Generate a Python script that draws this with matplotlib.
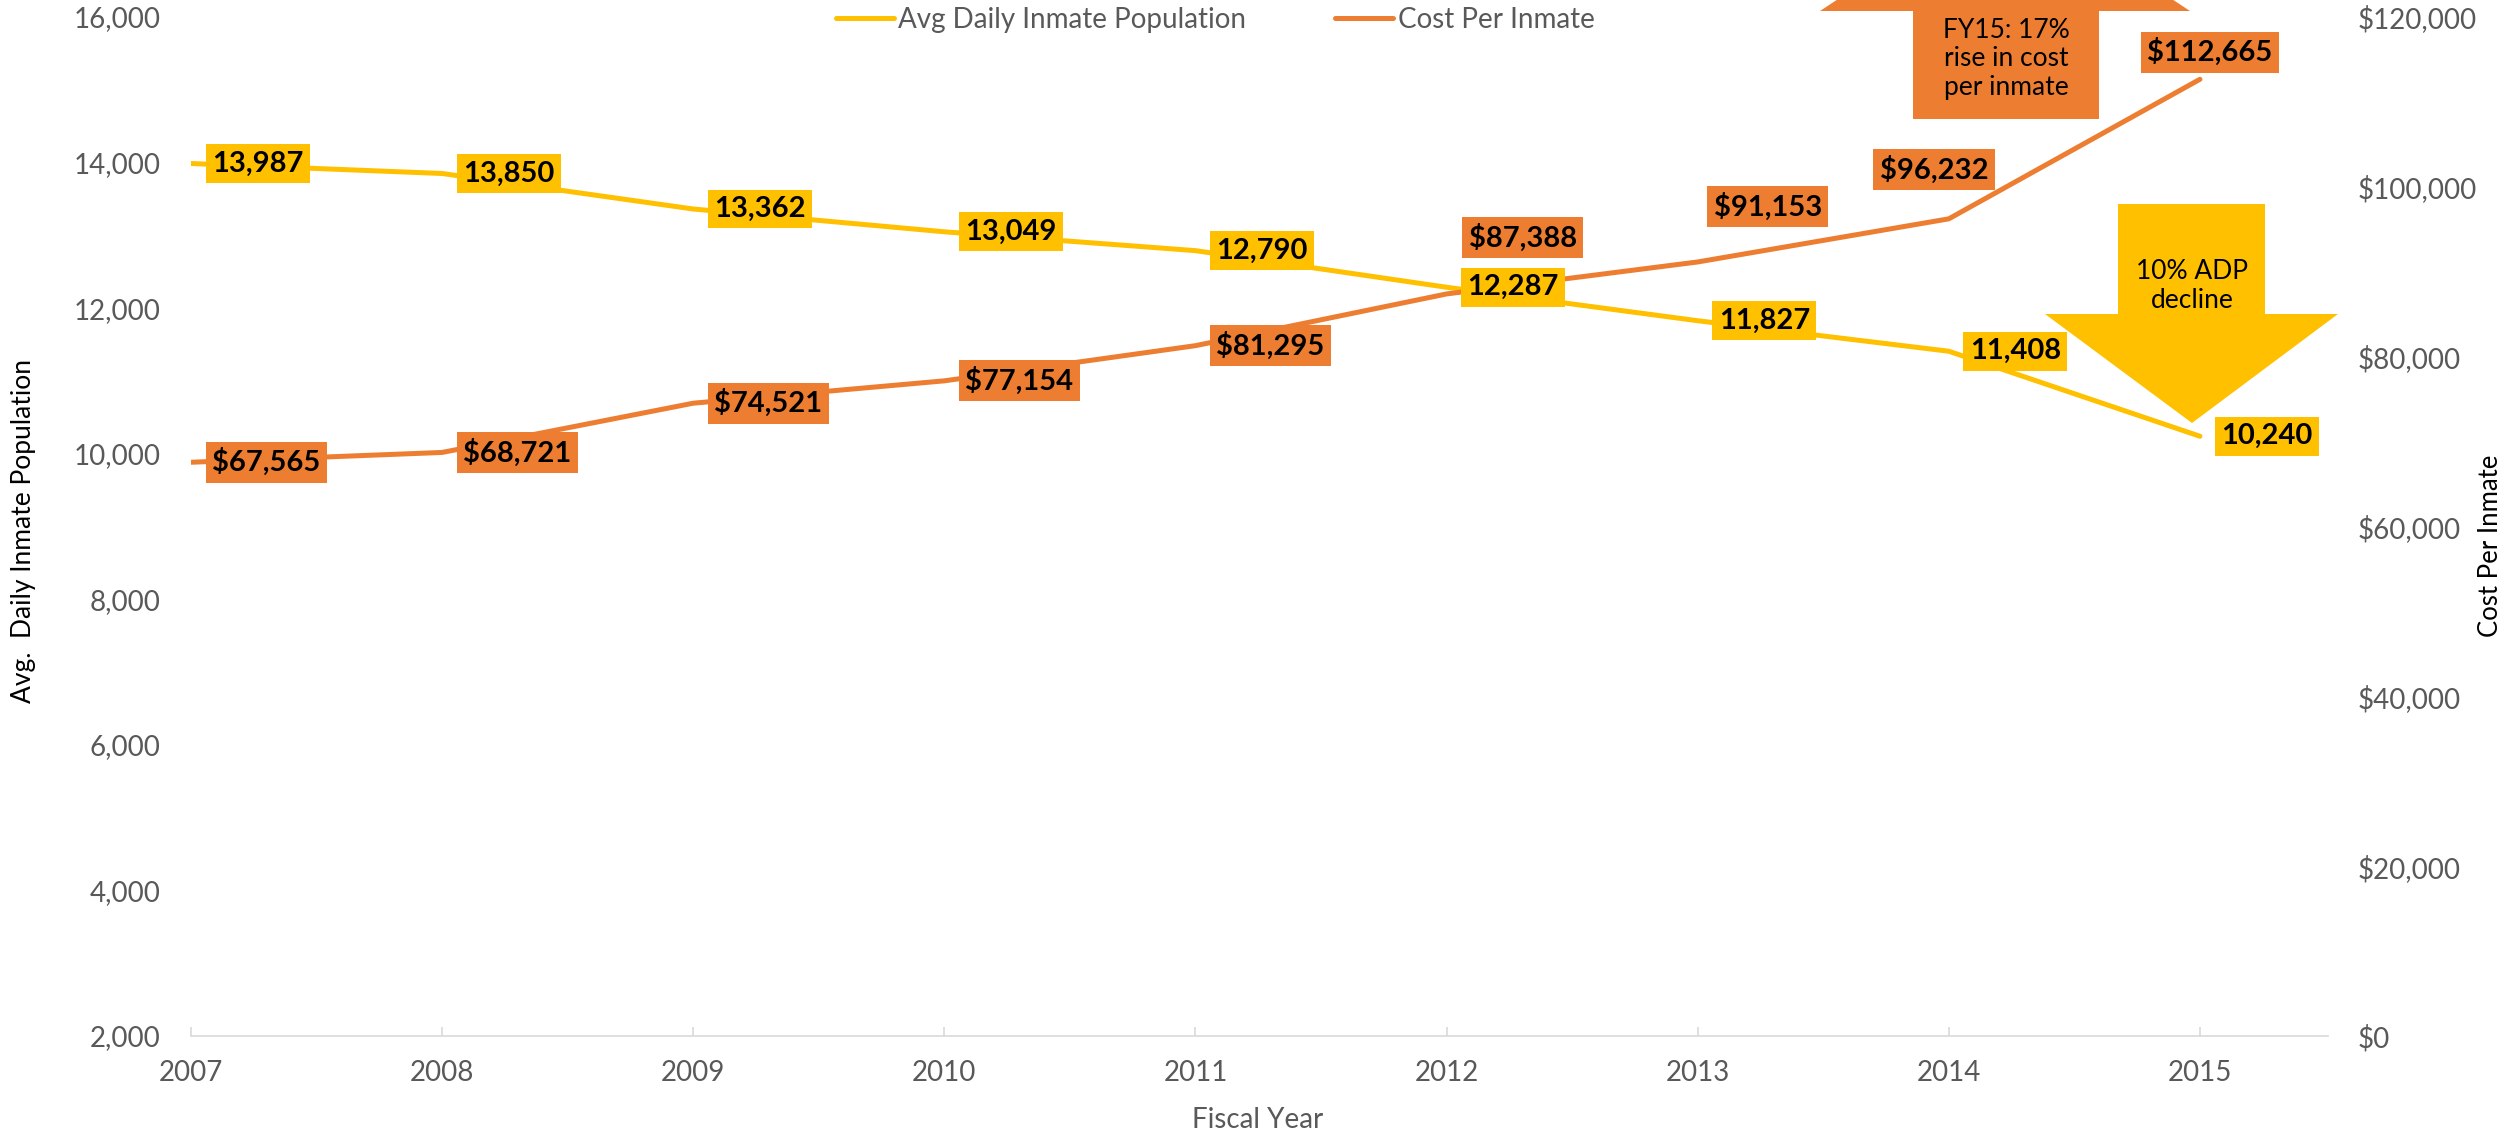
import matplotlib
matplotlib.use("Agg")
import matplotlib.pyplot as plt
from matplotlib.patches import Polygon
from matplotlib.ticker import FuncFormatter

plt.rcParams["font.family"] = ["Lato", "DejaVu Sans"]

years = [2007, 2008, 2009, 2010, 2011, 2012, 2013, 2014, 2015]
adp = [13987, 13850, 13362, 13049, 12790, 12287, 11827, 11408, 10240]
cost = [67565, 68721, 74521, 77154, 81295, 87388, 91153, 96232, 112665]

adp_ticks = [2000, 4000, 6000, 8000, 10000, 12000, 14000, 16000]
cost_ticks = [0, 20000, 40000, 60000, 80000, 100000, 120000]

YELLOW = "#FFC000"
ORANGE = "#ED7D31"
GREY = "#595959"
AXIS = "#D9D9D9"

W, H = 2509, 1138


def fx(px):
    return px / W


def fy(py):
    # pixel measured from top of image -> figure fraction
    return 1 - py / H


fig = plt.figure(figsize=(W / 100, H / 100), dpi=100)
ax = fig.add_axes([fx(191), fy(1036), fx(2328 - 191), (1036 - 17) / H])
ax2 = ax.twinx()

ax.set_xlim(2007, 2015.51)
ax.set_ylim(2000, 16000)
ax2.set_ylim(0, 120000)

l1, = ax.plot(years, adp, color=YELLOW, lw=3.6, solid_capstyle="round",
              label="Avg Daily Inmate Population")
l2, = ax2.plot(years, cost, color=ORANGE, lw=3.6, solid_capstyle="round",
               label="Cost Per Inmate")

for a in (ax, ax2):
    for s in a.spines.values():
        s.set_visible(False)
ax.spines["bottom"].set_visible(True)
ax.spines["bottom"].set_color(AXIS)
ax.spines["bottom"].set_linewidth(1.2)

ax.set_xticks(years)
ax.tick_params(axis="x", direction="in", length=6.5, width=1.2, color=AXIS,
               labelcolor=GREY, labelsize=20, pad=17)
ax.set_yticks(adp_ticks)
ax.yaxis.set_major_formatter(FuncFormatter(lambda v, p: f"{v:,.0f}"))
ax.tick_params(axis="y", length=0, labelcolor=GREY, labelsize=20, pad=22)
ax2.set_yticks(cost_ticks)
ax2.yaxis.set_major_formatter(FuncFormatter(lambda v, p: f"${v:,.0f}"))
ax2.tick_params(axis="y", length=0, labelcolor=GREY, labelsize=20, pad=21.5)

# data labels (all on ax2 so they sit above both lines)
label_kw = dict(textcoords="offset pixels", fontsize=21, fontweight="bold",
                color="black", annotation_clip=False, zorder=5)
for x, v in zip(years, adp):
    ax2.annotate(f"{v:,}", (x, v), xycoords=ax.transData, xytext=(21, 0),
                 ha="left", va="center",
                 bbox=dict(boxstyle="square,pad=0.22", fc=YELLOW, ec="none"),
                 **label_kw)

cost_offsets = [(21, 0, "left"), (21, 0, "left"), (21, 0, "left"), (21, 0, "left"),
                (21, 0, "left"), (76, 56, "center"), (70, 55, "center"),
                (-15, 49, "center"), (10, 27, "center")]
for x, v, (dx, dy, ha) in zip(years, cost, cost_offsets):
    ax2.annotate(f"${v:,}", (x, v), xytext=(dx, dy), ha=ha, va="center",
                 bbox=dict(boxstyle="square,pad=0.22", fc=ORANGE, ec="none"),
                 **label_kw)

# callout arrows
up_arrow = [(1913, 119), (2099, 119), (2099, 11), (2190, 11), (2005, -111),
            (1820, 11), (1913, 11)]
fig.patches.append(Polygon([(fx(x), fy(y)) for x, y in up_arrow], closed=True,
                           fc=ORANGE, ec="none", transform=fig.transFigure))
fig.text(fx(2006), fy(59), "FY15: 17%\nrise in cost\nper inmate", ha="center",
         va="center", fontsize=19, linespacing=1.2, color="black")

down_arrow = [(2118, 204), (2265, 204), (2265, 314), (2338, 314), (2192, 423),
              (2045, 314), (2118, 314)]
fig.patches.append(Polygon([(fx(x), fy(y)) for x, y in down_arrow], closed=True,
                           fc=YELLOW, ec="none", transform=fig.transFigure))
fig.text(fx(2192), fy(286), "10% ADP\ndecline", ha="center", va="center",
         fontsize=19, linespacing=1.2, color="black")

# axis titles
fig.text(fx(24), fy(531), "Avg.  Daily Inmate Population", rotation=90,
         ha="center", va="center", fontsize=19, color="black")
fig.text(fx(2491), fy(546), "Cost Per Inmate", rotation=90,
         ha="center", va="center", fontsize=18.5, color="black")
fig.text(fx(1258), fy(1120), "Fiscal Year", ha="center", va="center",
         fontsize=20, color=GREY)

fig.legend(handles=[l1, l2], loc="center", bbox_to_anchor=(fx(1215), fy(20)),
           ncol=2, frameon=False, fontsize=20, labelcolor=GREY,
           handlelength=2.1, handletextpad=0.15, columnspacing=3.2)

fig.savefig("out.png", dpi=100)
